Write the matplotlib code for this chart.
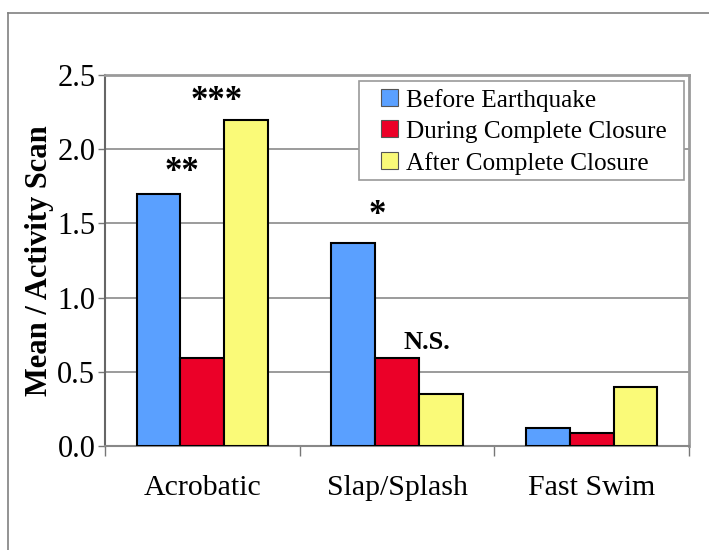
import matplotlib
matplotlib.use("Agg")
import matplotlib.pyplot as plt
from matplotlib.lines import Line2D
from matplotlib.patches import Patch, Rectangle
import numpy as np

categories = ["Acrobatic", "Slap/Splash", "Fast Swim"]
series_names = ["Before Earthquake", "During Complete Closure", "After Complete Closure"]
before = [1.70, 1.37, 0.12]
during = [0.59, 0.59, 0.09]
after = [2.20, 0.35, 0.40]
series_colors = ["#5AA0FF", "#EB0028", "#FAFA78"]
y_ticks = [0.0, 0.5, 1.0, 1.5, 2.0, 2.5]

# significance marks: (text, x in category units, y, font size)
marks = [("**", -0.105, 1.84, 25), ("***", 0.074, 2.32, 25),
         ("*", 0.90, 1.55, 25), ("N.S.", 1.151, 0.70, 19)]

plt.rcParams["font.family"] = ["Liberation Serif", "DejaVu Serif"]

W, H = 709, 550
fig = plt.figure(figsize=(W / 100, H / 100), dpi=100)
ax = fig.add_axes([105 / W, 1 - 446 / H, 584 / W, 371 / H])

x = np.arange(len(categories))
w = 0.225
for k, (vals, name, col) in enumerate(zip([before, during, after], series_names, series_colors)):
    ax.bar(x + (k - 1) * w, vals, width=w, color=col, edgecolor="black",
           linewidth=1.5, label=name, zorder=3)

ax.set_xlim(-0.5, 2.5)
ax.set_ylim(0, 2.5)
ax.set_yticks(y_ticks)
ax.set_yticklabels([f"{v:.1f}" for v in y_ticks])
ax.yaxis.grid(True, color="#8a8a8a", linewidth=1.2, zorder=0)
ax.set_axisbelow(True)

ax.set_xticks(x)
ax.set_xticklabels(categories)
ax.set_xticks(np.arange(-0.5, 2.6, 1.0), minor=True)
ax.tick_params(axis="x", which="major", length=0, pad=21, labelsize=21.5)
ax.tick_params(axis="x", which="minor", length=7, width=1, color="#777777", direction="out")
ax.tick_params(axis="y", which="major", length=5, width=1, color="#777777", pad=2, labelsize=22)

for side in ["top", "right"]:
    ax.spines[side].set_color("#9a9a9a")
    ax.spines[side].set_linewidth(2.0)
ax.spines["left"].set_color("#666666")
ax.spines["left"].set_linewidth(1.5)
ax.spines["bottom"].set_color("#888888")
ax.spines["bottom"].set_linewidth(1.5)

ax.set_ylabel("Mean / Activity Scan", fontsize=22, fontweight="bold", labelpad=2.5)

for txt, xm, ym, fs in marks:
    ax.text(xm, ym, txt, ha="center", va="center", fontsize=fs, fontweight="bold", zorder=4)

# legend box and entries
box = Rectangle((359 / W, 1 - 180 / H), 325 / W, 99 / H, transform=fig.transFigure,
                facecolor="white", edgecolor="#9a9a9a", linewidth=1.2, zorder=5, clip_on=False)
ax.add_patch(box)
handles = [Patch(facecolor=c, edgecolor="#555555", linewidth=0.8) for c in series_colors]
leg = ax.legend(handles, series_names, loc="upper left",
                bbox_to_anchor=(373.5 / W, 1 - 81 / H), bbox_transform=fig.transFigure,
                fontsize=18.2, frameon=False,
                handlelength=0.65, handleheight=0.65, handletextpad=0.32,
                labelspacing=0.35, borderpad=0.3, borderaxespad=0.0)
leg.set_zorder(6)

# outer frame around the figure
fig.add_artist(Line2D([8 / W, 1.0], [1 - 13 / H, 1 - 13 / H], transform=fig.transFigure,
                      color="#808080", linewidth=1.2))
fig.add_artist(Line2D([8 / W, 8 / W], [0.0, 1 - 13 / H], transform=fig.transFigure,
                      color="#808080", linewidth=1.2))

fig.savefig("out.png", dpi=100)
